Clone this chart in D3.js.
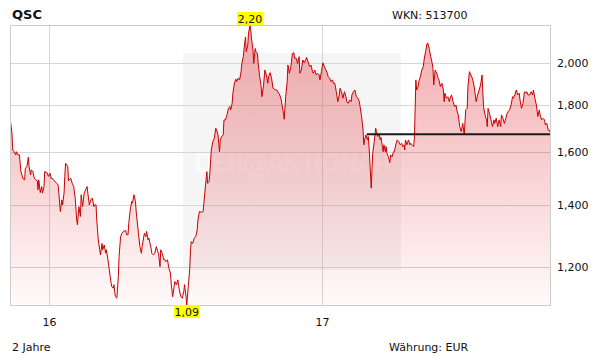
<!DOCTYPE html>
<html><head><meta charset="utf-8">
<script src="https://cdn.jsdelivr.net/npm/d3@7"></script>
<style>
body{margin:0;background:#fff}
text{font-family:"DejaVu Sans",Verdana,sans-serif;fill:#111}
</style>
</head><body>
<svg id="c" width="611" height="364"></svg>
<script>
// ---- data ----
const title = "QSC";
const wkn = "WKN: 513700";
const periodLabel = "2 Jahre";
const currencyLabel = "Währung: EUR";
const watermark = "DER@AKTIONÄR";
const startDate = "2015-11-08";
const domainStartDay = 1, domainEndDay = 727;
const days = [1,3,4,6,8,9,11,13,15,18,20,21,23,25,26,28,29,31,33,35,37,38,39,41,43,44,46,47,50,52,54,56,57,60,63,65,66,68,70,71,73,74,75,78,79,82,84,86,88,90,91,93,95,96,98,100,102,104,105,107,109,111,113,114,116,117,119,121,122,124,125,127,129,130,132,135,137,139,140,142,144,146,147,149,151,153,156,157,159,160,162,164,165,167,169,170,173,175,177,178,181,183,184,186,187,190,191,193,195,197,199,200,202,203,205,207,208,210,212,214,216,217,219,221,222,224,226,228,230,232,234,235,237,238,240,242,243,244,246,248,250,252,253,255,258,260,261,263,265,266,268,269,271,273,275,277,278,280,282,283,285,287,288,290,292,294,296,297,299,300,302,304,305,307,309,311,312,314,316,317,318,320,321,323,324,325,327,328,330,331,333,334,336,338,339,341,343,345,347,348,350,352,354,355,357,359,363,365,368,369,371,373,374,376,378,380,382,383,385,387,389,390,392,394,396,398,399,401,403,405,407,408,410,412,414,416,417,419,421,423,425,427,428,430,432,434,435,437,439,441,443,444,446,448,450,452,453,455,457,459,460,462,464,466,468,470,471,473,475,476,477,479,481,482,483,484,486,487,488,490,492,493,495,497,498,499,501,502,503,505,506,507,509,511,512,514,516,517,519,521,523,525,527,528,530,531,532,534,536,538,539,541,543,544,545,546,547,549,550,552,554,556,557,559,561,562,564,566,568,569,570,572,574,576,577,579,581,583,584,585,587,589,591,592,594,596,598,600,601,603,605,607,609,611,613,615,616,618,620,622,624,625,627,629,631,633,635,636,637,639,641,642,643,645,647,649,651,652,654,656,658,660,661,663,665,667,668,670,672,674,676,677,679,681,683,685,686,688,690,692,694,695,697,699,701,703,704,706,708,710,712,713,715,717,719,720,722,724,726,727];
const prices = [1.727,1.677,1.608,1.601,1.588,1.601,1.588,1.588,1.523,1.495,1.492,1.536,1.542,1.579,1.542,1.511,1.530,1.523,1.498,1.492,1.489,1.455,1.492,1.445,1.467,1.443,1.467,1.523,1.519,1.505,1.517,1.495,1.498,1.488,1.479,1.473,1.443,1.378,1.419,1.401,1.443,1.505,1.555,1.542,1.489,1.498,1.479,1.467,1.425,1.349,1.333,1.395,1.361,1.437,1.395,1.443,1.455,1.467,1.443,1.401,1.419,1.425,1.395,1.401,1.401,1.349,1.283,1.252,1.236,1.272,1.252,1.267,1.241,1.252,1.221,1.171,1.142,1.137,1.147,1.113,1.109,1.171,1.231,1.294,1.305,1.311,1.314,1.300,1.300,1.338,1.384,1.413,1.407,1.437,1.413,1.378,1.305,1.262,1.241,1.262,1.305,1.294,1.311,1.283,1.289,1.257,1.241,1.236,1.241,1.262,1.246,1.241,1.200,1.252,1.241,1.221,1.223,1.215,1.221,1.195,1.181,1.152,1.113,1.142,1.156,1.147,1.161,1.132,1.113,1.109,1.128,1.147,1.113,1.090,1.142,1.195,1.252,1.278,1.272,1.289,1.294,1.316,1.349,1.378,1.375,1.378,1.407,1.467,1.523,1.479,1.486,1.517,1.608,1.642,1.656,1.698,1.691,1.670,1.601,1.649,1.663,1.670,1.734,1.734,1.756,1.785,1.793,1.778,1.808,1.854,1.901,1.920,1.909,1.925,1.917,1.957,1.997,2.032,2.109,2.135,2.057,2.092,2.155,2.200,2.173,2.128,2.066,1.998,2.074,2.057,2.049,1.998,1.933,1.885,1.838,1.885,1.965,1.941,1.901,1.933,1.952,1.925,1.877,1.877,1.869,1.869,1.846,1.823,1.763,1.737,1.838,1.909,1.990,1.949,1.982,2.049,2.052,2.024,2.024,1.998,2.032,1.949,1.965,2.015,2.001,2.018,2.028,2.006,1.982,1.990,1.957,1.949,1.965,1.941,1.949,1.941,1.917,1.957,2.001,1.982,1.965,1.949,1.933,1.925,1.909,1.917,1.901,1.901,1.861,1.815,1.846,1.877,1.861,1.831,1.861,1.838,1.815,1.808,1.823,1.815,1.846,1.861,1.869,1.838,1.831,1.815,1.793,1.749,1.691,1.629,1.649,1.670,1.649,1.663,1.622,1.568,1.461,1.530,1.595,1.642,1.698,1.684,1.663,1.670,1.649,1.660,1.622,1.601,1.629,1.601,1.622,1.595,1.581,1.558,1.588,1.581,1.601,1.601,1.629,1.649,1.642,1.629,1.635,1.622,1.629,1.608,1.649,1.629,1.649,1.629,1.635,1.629,1.622,1.656,1.778,1.917,1.869,1.885,1.909,1.933,1.965,1.982,2.015,2.057,2.100,2.103,2.074,2.032,1.998,1.973,1.893,1.965,1.949,1.925,1.917,1.885,1.901,1.869,1.815,1.854,1.831,1.838,1.815,1.831,1.846,1.815,1.793,1.800,1.778,1.756,1.705,1.684,1.719,1.670,1.778,1.785,1.885,1.957,1.941,1.925,1.893,1.869,1.815,1.846,1.869,1.893,1.941,1.861,1.793,1.756,1.734,1.705,1.785,1.763,1.734,1.705,1.734,1.719,1.741,1.705,1.734,1.705,1.756,1.741,1.719,1.741,1.756,1.771,1.778,1.800,1.838,1.831,1.846,1.869,1.846,1.854,1.823,1.785,1.808,1.861,1.854,1.861,1.846,1.846,1.861,1.846,1.869,1.831,1.800,1.749,1.778,1.756,1.734,1.741,1.734,1.712,1.719,1.691,1.684,1.698];
const yTicks = [1.2, 1.4, 1.6, 1.8, 2.0];
const refLevel = 1.673, refStartDay = 480;
const yMin = 1.09, yMax = 2.20;

// ---- setup ----
const de = d3.formatLocale({decimal: ",", thousands: ".", grouping: [3], currency: ["", " €"]});
const fmtTick = de.format(".3f"), fmtExt = de.format(".2f");
const parse = d3.timeParse("%Y-%m-%d");
const t0 = parse(startDate);
const dayToDate = d => d3.timeDay.offset(t0, d);
const data = days.map((d, i) => ({date: dayToDate(d), v: prices[i]}));

const L = 10.5, R = 550.5, T = 25.5, B = 305.5;
const x = d3.scaleTime().domain([dayToDate(domainStartDay), dayToDate(domainEndDay)]).range([L, R]);
const y = d3.scaleLog().domain([yMin, yMax]).range([305, 25]);

const svg = d3.select("#c");
const defs = svg.append("defs");
const g = defs.append("linearGradient").attr("id", "fillg").attr("gradientUnits", "userSpaceOnUse")
  .attr("x1", 0).attr("x2", 0).attr("y1", 25).attr("y2", 305);
[[0, 0.38], [0.5, 0.22], [1, 0.02]].forEach(([o, a]) =>
  g.append("stop").attr("offset", o).attr("stop-color", "#e0262e").attr("stop-opacity", a));
defs.append("clipPath").attr("id", "clip").append("rect")
  .attr("x", L).attr("y", T - 1).attr("width", R - L).attr("height", B - T + 1);

// watermark band
svg.append("rect").attr("x", 183).attr("y", 53).attr("width", 218).attr("height", 217).attr("fill", "#f5f5f5");
svg.append("text").attr("x", 193).attr("y", 172).text(watermark)
  .attr("textLength", 200).attr("lengthAdjust", "spacing")
  .style("font-size", "26px").style("font-weight", "bold").style("fill", "#ffffff").style("opacity", 0.5);

// grid
svg.append("g").selectAll("line").data(yTicks).join("line")
  .attr("x1", L).attr("x2", R)
  .attr("y1", d => Math.round(y(d)) + 0.5).attr("y2", d => Math.round(y(d)) + 0.5)
  .attr("stroke", "#d6d6d6").attr("stroke-width", 1);
const xTicks = x.ticks(d3.timeYear.every(1));
svg.append("g").selectAll("line").data(xTicks).join("line")
  .attr("x1", d => Math.floor(x(d)) + 0.5).attr("x2", d => Math.floor(x(d)) + 0.5)
  .attr("y1", T).attr("y2", B)
  .attr("stroke", "#d6d6d6").attr("stroke-width", 1);

// area + line
const plot = svg.append("g").attr("clip-path", "url(#clip)");
plot.append("path").datum(data)
  .attr("d", d3.area().x(d => x(d.date)).y0(B).y1(d => y(d.v)))
  .attr("fill", "url(#fillg)");
plot.append("path").datum(data)
  .attr("d", d3.line().x(d => x(d.date)).y(d => y(d.v)))
  .attr("fill", "none").attr("stroke", "#c80000").attr("stroke-width", 1).attr("stroke-linejoin", "round");
// reference level
plot.append("line")
  .attr("x1", x(dayToDate(refStartDay))).attr("x2", R)
  .attr("y1", y(refLevel)).attr("y2", y(refLevel))
  .attr("stroke", "#1a1a1a").attr("stroke-width", 2);

// border
svg.append("rect").attr("x", L).attr("y", T).attr("width", R - L).attr("height", B - T)
  .attr("fill", "none").attr("stroke", "#cccccc").attr("stroke-width", 1);

// y labels
svg.append("g").selectAll("text").data(yTicks).join("text")
  .attr("x", 557).attr("y", d => y(d)).attr("dy", "0.36em")
  .style("font-size", "11px").text(d => fmtTick(d));
// x labels
svg.append("g").selectAll("text").data(xTicks).join("text")
  .attr("x", d => Math.floor(x(d)) + 0.5).attr("y", 326).attr("text-anchor", "middle")
  .style("font-size", "11px").text(d3.timeFormat("%y"));

// header / footer
svg.append("text").attr("x", 12).attr("y", 19).text(title).style("font-size", "13px").style("font-weight", "bold");
svg.append("text").attr("x", 392).attr("y", 19).text(wkn).style("font-size", "11px");
svg.append("text").attr("x", 12).attr("y", 351).text(periodLabel).style("font-size", "11px");
svg.append("text").attr("x", 389).attr("y", 351).text(currencyLabel).style("font-size", "11px");

// max / min markers
const maxP = data.reduce((a, b) => b.v > a.v ? b : a);
const minP = data.reduce((a, b) => b.v < a.v ? b : a);
function marker(p, boxY) {
  const cx = x(p.date);
  const w = 26, h = 13;
  svg.append("rect").attr("x", cx - w / 2).attr("y", boxY).attr("width", w).attr("height", h).attr("fill", "#ffff00");
  svg.append("text").attr("x", cx).attr("y", boxY + 10.5).attr("text-anchor", "middle")
    .style("font-size", "11px").text(fmtExt(p.v));
}
marker(maxP, 12);
marker(minP, 305);
</script>
</body></html>
